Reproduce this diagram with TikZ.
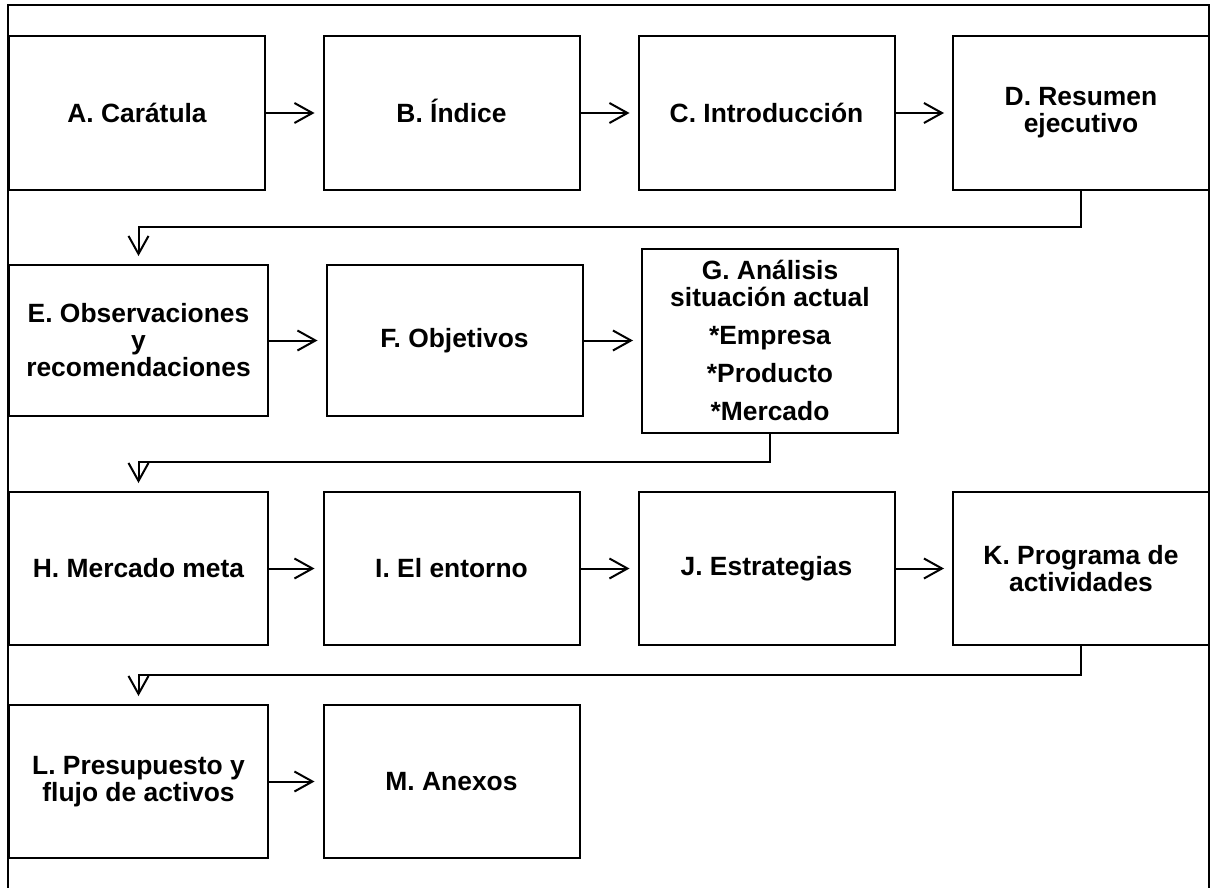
\documentclass[tikz,border=0pt]{standalone}
\usepackage{fontspec}
\setmainfont{Liberation Sans}
\usetikzlibrary{arrows.meta,calc}
\begin{document}
\begin{tikzpicture}[x=0.5pt, y=-0.5pt, line width=1pt,
  caja/.style={draw, line width=1pt, minimum width=128pt, minimum height=76.5pt,
    align=center, inner sep=2pt, font=\fontsize{13.2}{13.5}\selectfont\bfseries},
  ancha/.style={caja, minimum width=129.5pt},
  flecha/.style={-{Straight Barb[length=9pt,width=10pt]}, shorten >=4pt}]

\useasboundingbox (0,0) rectangle (1210,888);
\draw (8,900) -- (8,5) -- (1209,5) -- (1209,900);

\node[caja] (A) at (137,113) {A. Carátula};
\node[caja] (B) at (451.5,113) {B. \smash{Í}ndice};
\node[caja] (C) at (766.5,113) {C. Introducción};
\node[caja] (D) at (1081,113) {D. Resumen\\ejecutivo};

\node[ancha, minimum height=75.5pt] (E) at (138.5,340.5) {E. Observaciones\\y\\recomendaciones};
\node[caja, minimum height=75.5pt] (F) at (454.5,340.5) {F. Objetivos};
\node[caja, minimum height=92pt] (G) at (770,340.5)
  {G. Análisis\\situación actual\\[5.5pt]*Empresa\\[5.5pt]*Producto\\[5.5pt]*Mercado};

\node[ancha] (H) at (138.5,568.5) {H. Mercado meta};
\node[caja] (I) at (451.5,568.5) {I. El entorno};
\node[caja] (J) at (766.5,568.5) {J. Estrategias};
\node[caja] (K) at (1081,568.5) {K. Programa de\\actividades};

\node[ancha] (L) at (138.5,781.5) {L. Presupuesto y\\flujo de activos};
\node[caja] (M) at (451.5,781.5) {M. Anexos};

\foreach \a/\b in {A/B,B/C,C/D,E/F,F/G,H/I,I/J,J/K,L/M} {\draw[flecha] (\a.east) -- (\b.west);}
\foreach \a/\b in {D/E,G/H,K/L} {\draw[flecha] (\a.south) |- ($(\a.south)!.5!(\b.north)$) -| (\b.north);}

\end{tikzpicture}
\end{document}
